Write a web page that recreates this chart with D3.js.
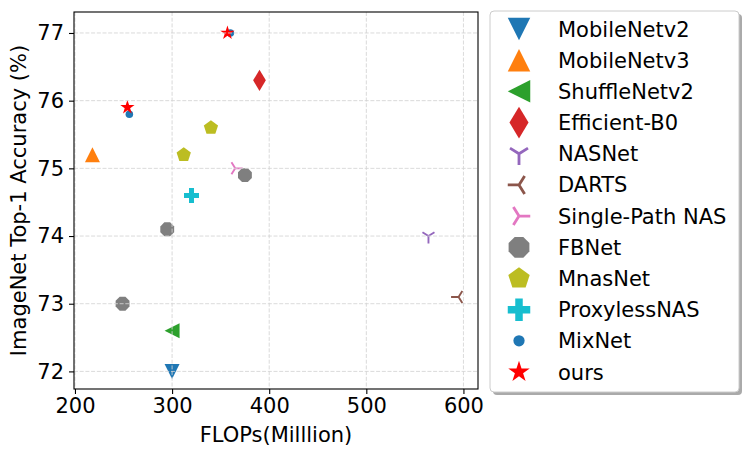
<!DOCTYPE html>
<html>
<head>
<meta charset="utf-8">
<script src="https://cdn.jsdelivr.net/npm/d3@7"></script>
<style>
  body { margin: 0; background: #fff; }
  svg { display: block; font-family: "DejaVu Sans", sans-serif; }
</style>
</head>
<body>
<svg id="chart" width="748" height="457"></svg>
<script>
// series names, in legend order
const models = ['MobileNetv2', 'MobileNetv3', 'ShuffleNetv2', 'Efficient-B0', 'NASNet', 'DARTS',
    'Single-Path NAS', 'FBNet', 'MnasNet', 'ProxylessNAS', 'MixNet', 'ours'];
const markers = ['triangleDown', 'triangleUp', 'triangleLeft', 'thinDiamond', 'triDown', 'triLeft',
    'triRight', 'octagon', 'pentagon', 'plusFilled', 'point', 'star'];
const colors = ['#1f77b4', '#ff7f0e', '#2ca02c', '#d62728', '#9467bd', '#8c564b',
    '#e377c2', '#7f7f7f', '#bcbd22', '#17becf', '#1f77b4', '#ff0000'];

// FLOPs (M) per series
const flops = [[300], [218], [300], [390], [564], [595], [365], [375, 295, 249], [312, 340], [320], [256, 360], [254, 357]];
// top-1 accuracy (%) per series
const acc = [[72.0], [75.2], [72.6], [76.3], [74.0], [73.1], [75.0], [74.9, 74.1, 73.0], [75.2, 75.6], [74.6], [75.8, 77.0], [75.9, 77.0]];

const xTicks = [200, 300, 400, 500, 600];
const yTicks = [72, 73, 74, 75, 76, 77];

const svg = d3.select('#chart');
const plot = { left: 74, right: 478, top: 12, bottom: 389 };
const fontSize = 21;

const x = d3.scaleLinear().domain([199, 615]).range([plot.left, plot.right]);
const y = d3.scaleLinear().domain([71.74, 77.31]).range([plot.bottom, plot.top]);

// marker shapes, sized like matplotlib (ms = marker size in px)
function markerPath(kind, ms) {
    const h = ms / 2;
    const poly = pts => 'M' + pts.map(p => p.join(',')).join('L') + 'Z';
    const regular = (n, r, rot) => d3.range(n).map(i => {
        const a = rot + i * 2 * Math.PI / n;
        return [r * Math.sin(a), -r * Math.cos(a)];
    });
    switch (kind) {
        case 'triangleDown': return poly([[0, h], [-h, -h], [h, -h]]);
        case 'triangleUp': return poly([[0, -h], [-h, h], [h, h]]);
        case 'triangleLeft': return poly([[-h, 0], [h, -h], [h, h]]);
        case 'thinDiamond': return poly([[0, -0.707 * ms], [0.424 * ms, 0], [0, 0.707 * ms], [-0.424 * ms, 0]]);
        case 'octagon': return poly(regular(8, h, Math.PI / 8));
        case 'pentagon': return poly(regular(5, h, 0));
        case 'star': return poly(d3.range(10).map(i => {
            const r = i % 2 ? h * 0.381966 : h;
            const a = i * Math.PI / 5;
            return [r * Math.sin(a), -r * Math.cos(a)];
        }));
        case 'plusFilled': {
            const a = h, b = ms / 6;
            return poly([[-b, -a], [b, -a], [b, -b], [a, -b], [a, b], [b, b], [b, a], [-b, a], [-b, b], [-a, b], [-a, -b], [-b, -b]]);
        }
        case 'point': return d3.arc()({ innerRadius: 0, outerRadius: ms / 4, startAngle: 0, endAngle: 2 * Math.PI });
        case 'triDown': return `M0,0L0,${h}M0,0L${0.8 * h},${-0.5 * h}M0,0L${-0.8 * h},${-0.5 * h}`;
        case 'triLeft': return `M0,0L${-h},0M0,0L${0.5 * h},${-0.8 * h}M0,0L${0.5 * h},${0.8 * h}`;
        case 'triRight': return `M0,0L${h},0M0,0L${-0.5 * h},${-0.8 * h}M0,0L${-0.5 * h},${0.8 * h}`;
    }
}
const isLine = kind => kind.startsWith('tri') && !kind.startsWith('triangle');

function drawMarker(g, kind, color, ms) {
    const p = g.append('path').attr('d', markerPath(kind, ms));
    if (isLine(kind)) p.attr('fill', 'none').attr('stroke', color).attr('stroke-width', ms / 8);
    else p.attr('fill', color);
    return p;
}

// points
models.forEach((m, i) => {
    flops[i].forEach((f, j) => {
        const g = svg.append('g').attr('transform', `translate(${x(f)},${y(acc[i][j])})`);
        drawMarker(g, markers[i], colors[i], 15);
    });
});

// grid on top, semi-transparent light dashes
const grid = svg.append('g')
    .attr('stroke', '#d4d4d4').attr('stroke-opacity', 0.85)
    .attr('stroke-width', 1).attr('stroke-dasharray', '4,1.7');
grid.selectAll('line.gx').data(xTicks).enter().append('line')
    .attr('x1', d => x(d)).attr('x2', d => x(d)).attr('y1', plot.top).attr('y2', plot.bottom);
grid.selectAll('line.gy').data(yTicks).enter().append('line')
    .attr('y1', d => y(d)).attr('y2', d => y(d)).attr('x1', plot.left).attr('x2', plot.right);

// axes
const xAxis = svg.append('g').attr('transform', `translate(0,${plot.bottom})`)
    .call(d3.axisBottom(x).tickValues(xTicks).tickFormat(d3.format('d')).tickSize(5).tickPadding(4));
const yAxis = svg.append('g').attr('transform', `translate(${plot.left},0)`)
    .call(d3.axisLeft(y).tickValues(yTicks).tickFormat(d3.format('d')).tickSize(5).tickPadding(5));
[xAxis, yAxis].forEach(a => {
    a.select('.domain').remove();
    a.selectAll('text').attr('font-size', fontSize).attr('font-family', 'DejaVu Sans').attr('fill', '#000');
    a.selectAll('line').attr('stroke', '#000').attr('stroke-width', 1.1);
});

svg.append('rect')
    .attr('x', plot.left).attr('y', plot.top)
    .attr('width', plot.right - plot.left).attr('height', plot.bottom - plot.top)
    .attr('fill', 'none').attr('stroke', '#000').attr('stroke-width', 1.1);

svg.append('text')
    .attr('x', (plot.left + plot.right) / 2).attr('y', 442)
    .attr('text-anchor', 'middle').attr('font-size', fontSize)
    .text('FLOPs(Milllion)');

svg.append('text')
    .attr('transform', `translate(26,${(plot.top + plot.bottom) / 2}) rotate(-90)`)
    .attr('text-anchor', 'middle').attr('font-size', fontSize)
    .text('ImageNet Top-1 Accuracy (%)');

// legend
const leg = { x: 490, y: 11, w: 249, h: 381 };
svg.append('rect')
    .attr('x', leg.x + 3).attr('y', leg.y + 3).attr('width', leg.w).attr('height', leg.h)
    .attr('rx', 4).attr('fill', '#aaa');
svg.append('rect')
    .attr('x', leg.x).attr('y', leg.y).attr('width', leg.w).attr('height', leg.h)
    .attr('rx', 4).attr('fill', '#fff').attr('stroke', '#ccc').attr('stroke-width', 1);

const rowY = d3.scaleLinear().domain([0, models.length - 1]).range([29, 372]);
models.forEach((m, i) => {
    const g = svg.append('g').attr('transform', `translate(${leg.x + 29},${rowY(i)})`);
    drawMarker(g, markers[i], colors[i], 22.5);
    svg.append('text')
        .attr('x', leg.x + 68).attr('y', rowY(i)).attr('dy', '0.36em')
        .attr('font-size', fontSize).text(m);
});
</script>
</body>
</html>
